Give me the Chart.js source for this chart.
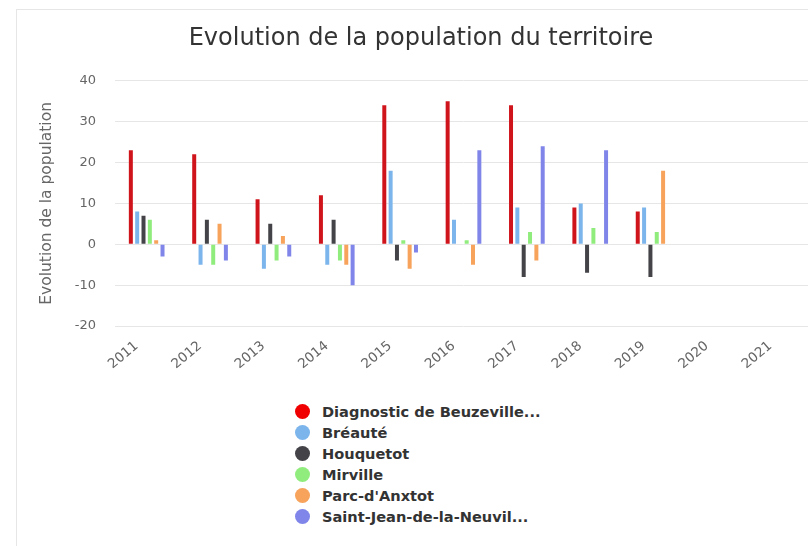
<!DOCTYPE html>
<html lang="fr">
<head>
<meta charset="utf-8">
<title>Evolution de la population du territoire</title>
<script src="https://cdn.jsdelivr.net/npm/chart.js@4/dist/chart.umd.min.js"></script>
<style>
  html, body { margin: 0; padding: 0; background: #fff; overflow: hidden; width: 808px; height: 546px; }
  .frame {
    position: absolute; left: 16px; top: 9px; width: 900px; height: 600px;
    border-left: 1px solid #e6e6e6; border-top: 1px solid #e6e6e6;
  }
  #chart { position: absolute; left: 0; top: 0; }
  .legend {
    position: absolute; left: 295px; top: 401px; margin: 0; padding: 0; list-style: none;
    font-family: "DejaVu Sans", sans-serif; font-weight: bold; font-size: 14.6px; color: #333;
  }
  .legend li { height: 21px; line-height: 21px; display: flex; align-items: center; white-space: nowrap; }
  .legend .dot { width: 15px; height: 15px; border-radius: 50%; margin-right: 12px; flex: none; }
</style>
</head>
<body>
<div class="frame"></div>
<canvas id="chart" width="846" height="390"></canvas>
<ul class="legend" id="legend"></ul>

<script>
/* ── DATA ───────────────────────────────────────────────────── */
const annees      = ['2011','2012','2013','2014','2015','2016','2017','2018','2019','2020','2021'];
const beuzeville  = [23, 22, 11, 12, 34, 35, 34,  9,  8, null, null];
const breaute     = [ 8, -5, -6, -5, 18,  6,  9, 10,  9, null, null];
const houquetot   = [ 7,  6,  5,  6, -4,  0, -8, -7, -8, null, null];
const mirville    = [ 6, -5, -4, -4,  1,  1,  3,  4,  3, null, null];
const parcAnxtot  = [ 1,  5,  2, -5, -6, -5, -4,  0, 18, null, null];
const saintJean   = [-3, -4, -3,-10, -2, 23, 24, 23,  0, null, null];
const yTicks      = [-20, -10, 0, 10, 20, 30, 40];

const series = [
  { label: 'Diagnostic de Beuzeville...',  data: beuzeville, color: '#d0141c', dot: '#f00000' },
  { label: 'Bréauté',                      data: breaute,    color: '#7cb5ec', dot: '#7cb5ec' },
  { label: 'Houquetot',                    data: houquetot,  color: '#434348', dot: '#434348' },
  { label: 'Mirville',                     data: mirville,   color: '#90ed7d', dot: '#90ed7d' },
  { label: "Parc-d'Anxtot",                data: parcAnxtot, color: '#f7a35c', dot: '#f7a35c' },
  { label: 'Saint-Jean-de-la-Neuvil...',   data: saintJean,  color: '#8085e9', dot: '#8085e9' },
];

const FONT = '"DejaVu Sans", sans-serif';

/* ── CHART ──────────────────────────────────────────────────── */
const ctx = document.getElementById('chart').getContext('2d');
new Chart(ctx, {
  type: 'bar',
  data: {
    labels: annees,
    datasets: series.map(s => ({
      label: s.label,
      data: s.data,
      backgroundColor: s.color,
      borderWidth: 0,
      categoryPercentage: 0.6,
      barPercentage: 0.63,
    })),
  },
  options: {
    responsive: false,
    animation: false,
    devicePixelRatio: 1,
    layout: { padding: { left: 30, right: 34, top: 0, bottom: 4 } },
    plugins: {
      legend: { display: false },
      tooltip: { enabled: false },
      title: {
        display: true,
        text: 'Evolution de la population du territoire',
        color: '#333',
        font: { family: FONT, size: 24, weight: 'normal' },
        padding: { top: 24, bottom: 28 },
      },
    },
    scales: {
      x: {
        grid: { display: false },
        border: { display: false },
        ticks: {
          color: '#666',
          font: { family: FONT, size: 13.5 },
          minRotation: 40,
          maxRotation: 40,
          padding: 4,
          labelOffset: -10,
        },
        afterFit: s => { s.height = 60; },
      },
      y: {
        min: -20,
        max: 40,
        afterBuildTicks: s => { s.ticks = yTicks.map(v => ({ value: v })); },
        grid: { color: '#e6e6e6', drawTicks: false },
        border: { display: false },
        ticks: {
          color: '#666',
          font: { family: FONT, size: 13 },
          padding: 19,
        },
        title: {
          display: true,
          text: 'Evolution de la population',
          color: '#666',
          font: { family: FONT, size: 15.5 },
          padding: { top: 8, bottom: 0 },
        },
        afterFit: s => { s.width = 85; },
      },
    },
  },
});

/* ── LEGEND ─────────────────────────────────────────────────── */
document.getElementById('legend').innerHTML = series.map(s =>
  `<li><span class="dot" style="background:${s.dot}"></span>${s.label}</li>`
).join('');
</script>
</body>
</html>
